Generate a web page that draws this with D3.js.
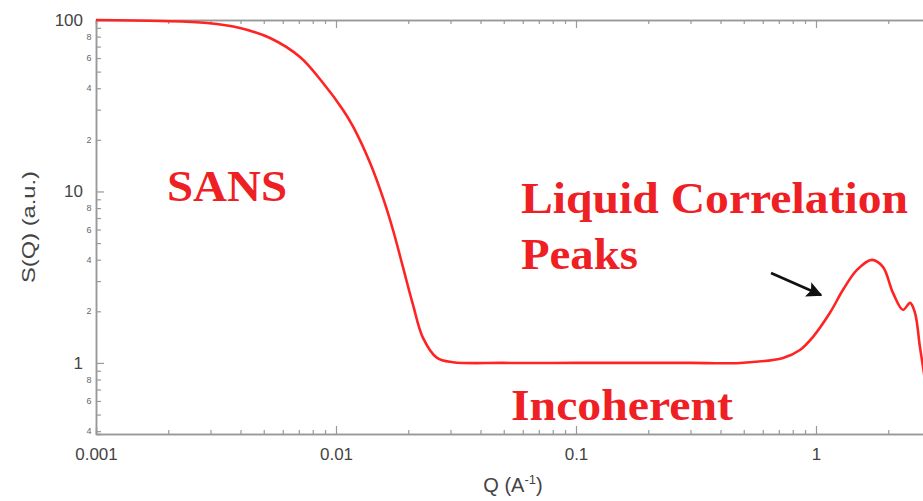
<!DOCTYPE html>
<html>
<head>
<meta charset="utf-8">
<script src="https://cdn.jsdelivr.net/npm/d3@7"></script>
<style>
  body { margin: 0; background: #fff; }
  svg { display: block; }
</style>
</head>
<body>
<div id="chart"></div>
<script>
// Values
const qValues = [0.001, 0.00185, 0.0029, 0.00398, 0.00531, 0.00708, 0.00883, 0.0107, 0.0118, 0.01386,
  0.0157, 0.01728, 0.019, 0.02094, 0.02304, 0.02636, 0.0307, 0.05, 0.1, 0.2, 0.3, 0.482, 0.729, 0.857,
  0.972, 1.143, 1.296, 1.482, 1.71, 1.9, 2.094, 2.304, 2.466, 2.585, 2.71, 2.84, 2.98];
const sValues = [100, 98.7, 96.0, 89.8, 78.5, 60.8, 42.9, 29.9, 23.8, 14.7,
  9.17, 5.96, 3.63, 2.18, 1.40, 1.07, 1.01, 1.0, 1.0, 1.0, 1.0, 1.0, 1.07, 1.19,
  1.42, 1.96, 2.67, 3.49, 3.99, 3.63, 2.56, 2.04, 2.24, 1.96, 1.24, 0.8, 0.385];

const xMajorTicks = [0.001, 0.01, 0.1, 1];
const xMajorLabels = ["0.001", "0.01", "0.1", "1"];
const yMajorTicks = [1, 10, 100];
const yMajorLabels = ["1", "10", "100"];
const yMinorLabels = [2, 4, 6, 8];

const width = 923;
const height = 501;
const margin = { top: 20, left: 96, bottom: 434 };

const svg = d3.select("#chart")
    .append("svg")
    .attr("width", width)
    .attr("height", height);

// log scales, plot continues past the right edge of the picture
const x = d3.scaleLog().domain([0.001, 3]).range([margin.left, 96 + 240 * Math.log10(3000)]);
const y = d3.scaleLog().domain([0.385, 100]).range([margin.bottom, margin.top]);

// minor tick values 2..9 in each decade
const minorsIn = (lo, hi) => {
  const out = [];
  for (let e = lo; e < hi; e++) {
    for (let m = 2; m <= 9; m++) {
      out.push(m * Math.pow(10, e));
    }
  }
  return out;
};
const xMinor = minorsIn(-3, 1).filter(v => v <= 3);
const yMinor = minorsIn(-1, 2).filter(v => v >= 0.385);

const axisColor = "#999";

function styleAxis(g) {
  g.select(".domain").attr("stroke", axisColor).attr("stroke-width", 1.5);
  g.selectAll(".tick line").attr("stroke", axisColor).attr("stroke-width", 1.2);
}

// bottom axis
svg.append("g")
    .attr("transform", `translate(0,${margin.bottom})`)
    .call(d3.axisBottom(x).tickValues(xMinor).tickSize(-4).tickFormat(""))
    .call(styleAxis);
svg.append("g")
    .attr("transform", `translate(0,${margin.bottom})`)
    .call(d3.axisBottom(x).tickValues(xMajorTicks).tickSizeInner(-8).tickSizeOuter(0).tickPadding(14)
        .tickFormat((d, i) => xMajorLabels[i]))
    .call(styleAxis)
    .call(g => g.selectAll("text")
        .attr("font-family", "Liberation Sans, Arial, sans-serif")
        .attr("font-size", 17)
        .attr("fill", "#444"));

// top axis
svg.append("g")
    .attr("transform", `translate(0,${margin.top})`)
    .call(d3.axisTop(x).tickValues(xMinor).tickSize(-4).tickFormat(""))
    .call(styleAxis);
svg.append("g")
    .attr("transform", `translate(0,${margin.top})`)
    .call(d3.axisTop(x).tickValues(xMajorTicks).tickSizeInner(-8).tickSizeOuter(0).tickFormat(""))
    .call(styleAxis);

// left axis
svg.append("g")
    .attr("transform", `translate(${margin.left},0)`)
    .call(d3.axisLeft(y).tickValues(yMinor).tickSize(-5).tickFormat(""))
    .call(styleAxis);
svg.append("g")
    .attr("transform", `translate(${margin.left},0)`)
    .call(d3.axisLeft(y).tickValues(yMajorTicks).tickSizeInner(-8).tickSizeOuter(0).tickPadding(13)
        .tickFormat((d, i) => yMajorLabels[i]))
    .call(styleAxis)
    .call(g => g.selectAll("text")
        .attr("font-family", "Liberation Sans, Arial, sans-serif")
        .attr("font-size", 17)
        .attr("fill", "#444"));

// small minor labels 2,4,6,8 beside the left axis
const minorLabelVals = [];
[0.1, 1, 10].forEach(dec => yMinorLabels.forEach(m => {
  const v = m * dec;
  if (v >= 0.385) minorLabelVals.push({ v, m });
}));
svg.append("g").selectAll("text")
    .data(minorLabelVals)
    .enter().append("text")
    .attr("x", margin.left - 7)
    .attr("y", d => y(d.v))
    .attr("dy", "0.35em")
    .attr("text-anchor", "middle")
    .attr("font-family", "Liberation Sans, Arial, sans-serif")
    .attr("font-size", 9)
    .attr("fill", "#666")
    .text(d => d.m);

// axis titles
const xTitle = svg.append("text")
    .attr("x", 513)
    .attr("y", 492)
    .attr("text-anchor", "middle")
    .attr("font-family", "Liberation Sans, Arial, sans-serif")
    .attr("font-size", 20)
    .attr("fill", "#444");
xTitle.append("tspan").text("Q (A");
xTitle.append("tspan").attr("dy", -8).attr("font-size", 13).text("-1");
xTitle.append("tspan").attr("dy", 8).text(")");

svg.append("text")
    .attr("transform", "translate(35,227) rotate(-90)")
    .attr("text-anchor", "middle")
    .attr("font-family", "Liberation Sans, Arial, sans-serif")
    .attr("font-size", 19)
    .attr("fill", "#444")
    .attr("textLength", 112)
    .attr("lengthAdjust", "spacingAndGlyphs")
    .text("S(Q) (a.u.)");

// clip to plot area
svg.append("defs").append("clipPath")
    .attr("id", "plot-clip")
    .append("rect")
    .attr("x", margin.left)
    .attr("y", margin.top - 3)
    .attr("width", width)
    .attr("height", margin.bottom - margin.top + 3);

const line = d3.line()
    .x(d => x(d[0]))
    .y(d => y(d[1]))
    .curve(d3.curveCatmullRom.alpha(0.5));

svg.append("path")
    .datum(d3.zip(qValues, sValues))
    .attr("clip-path", "url(#plot-clip)")
    .attr("fill", "none")
    .attr("stroke", "#ff2424")
    .attr("stroke-width", 2.6)
    .attr("d", line);

// annotations
const notes = [
  { text: "SANS", x: 167, y: 201, len: 120 },
  { text: "Liquid Correlation", x: 521, y: 213, len: 387 },
  { text: "Peaks", x: 521, y: 269, len: 117 },
  { text: "Incoherent", x: 511, y: 420, len: 222 }
];
svg.append("g").selectAll("text")
    .data(notes)
    .enter().append("text")
    .attr("x", d => d.x)
    .attr("y", d => d.y)
    .attr("font-family", "Liberation Serif, Times New Roman, serif")
    .attr("font-weight", "bold")
    .attr("font-size", 45)
    .attr("fill", "#ee2024")
    .attr("textLength", d => d.len)
    .attr("lengthAdjust", "spacingAndGlyphs")
    .text(d => d.text);

// arrow pointing at the peak
svg.append("defs").append("marker")
    .attr("id", "arrowhead")
    .attr("viewBox", "0 0 10 10")
    .attr("refX", 9)
    .attr("refY", 5)
    .attr("markerWidth", 6)
    .attr("markerHeight", 6)
    .attr("markerUnits", "strokeWidth")
    .attr("orient", "auto")
    .append("path")
    .attr("d", "M0,0 L10,5 L0,10 L2,5 Z")
    .attr("fill", "#111");

svg.append("line")
    .attr("x1", 771)
    .attr("y1", 273)
    .attr("x2", 821)
    .attr("y2", 295)
    .attr("stroke", "#111")
    .attr("stroke-width", 2.6)
    .attr("marker-end", "url(#arrowhead)");
</script>
</body>
</html>
